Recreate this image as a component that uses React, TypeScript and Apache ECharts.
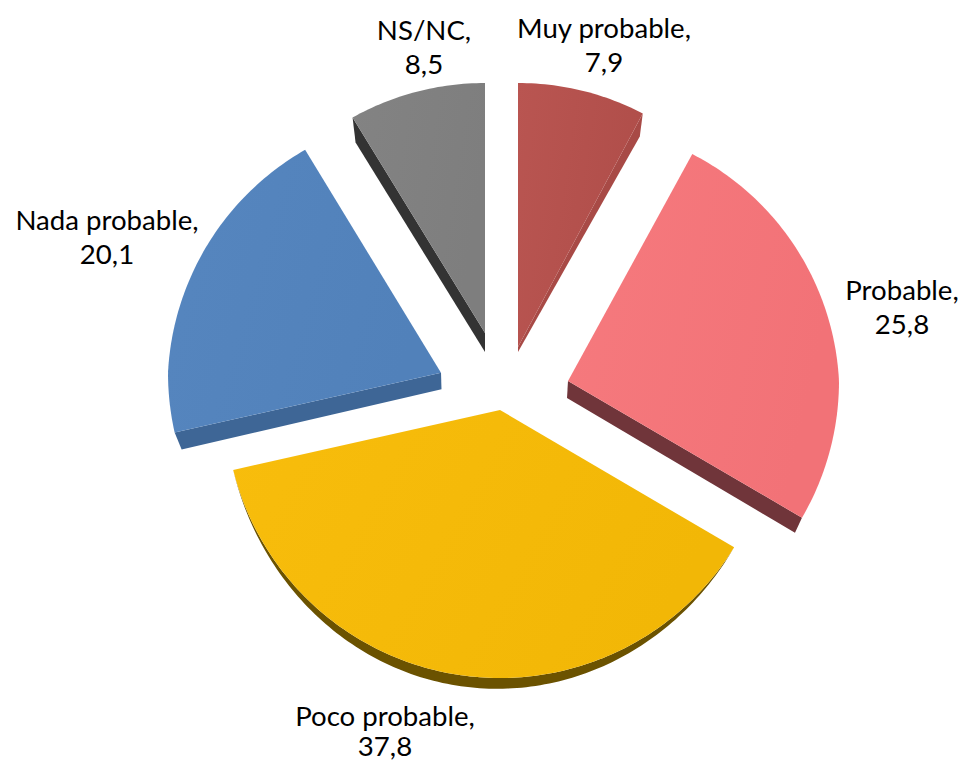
import React, { useEffect, useRef } from "react";
import * as echarts from "echarts";

const categories = ["Muy probable", "Probable", "Poco probable", "Nada probable", "NS/NC"];
const values = [7.9, 25.8, 37.8, 20.1, 8.5];
const valueLabels = ["7,9", "25,8", "37,8", "20,1", "8,5"];

// Look of each slice
const topColors = [
  ["#b95551", "#b04e4a"],
  ["#f67a7e", "#f27277"],
  ["#f8bd0c", "#f2b706"],
  ["#5686bf", "#5181ba"],
  ["#838383", "#7e7e7e"],
];
const wallColors = ["#a84a46", "#70353a", "#6b5200", "#3e6696", "#333333"];

// Layout: exploded tip of each slice, radius, foreshortening at back and front
const tips = [[518, 347], [568, 381], [500, 410], [441, 372.7], [485, 333]];
const radii = [271, 271, 275, 273, 270];
const backShrink = [7, 14, 0, 14, 20];
const frontShrink = [0, 0, 7, 0, 0];
// small perspective correction of the edges, in degrees
const edgeNudge = [[0, -0.3], [0.3, -0.9], [-0.8, 0.2], [0.2, -0.8], [-1, 0]];
// which edge carries a wall: 0 start edge, 1 end edge, -1 the outer rim
const wallEdge = [1, 1, -1, 0, 0];
const wallTipOffset = [[0, 5], [-1, 17], [0, 0], [0.5, 16.5], [0, 19]];
const wallCornerOffset = [[-3, 23], [-7, 15], [0, 11], [7, 17], [3, 25]];
const labelAnchors = [[604, 44], [902, 306], [385, 730.5], [107, 236], [424, 46]];
const labelLineGaps = [17, 17, 15, 17, 17];

const total = values.reduce((a, b) => a + b, 0);

function point(i: number, theta: number): [number, number] {
  const c = Math.cos(theta);
  const r = radii[i] - backShrink[i] * Math.max(0, c) - frontShrink[i] * Math.max(0, -c);
  return [tips[i][0] + r * Math.sin(theta), tips[i][1] - r * c];
}

function arcPoints(i: number, a0: number, a1: number) {
  const n = Math.max(8, Math.ceil(((a1 - a0) * 180) / Math.PI));
  const pts: [number, number][] = [];
  for (let k = 0; k <= n; k++) pts.push(point(i, a0 + ((a1 - a0) * k) / n));
  return pts;
}

function labelLine(text: string, x: number, y: number) {
  return {
    type: "text",
    x,
    y,
    style: {
      text,
      fill: "#000000",
      font: '27.6px Lato, "Open Sans", sans-serif',
      lineHeight: 28,
      align: "center",
      verticalAlign: "middle",
    },
  };
}

function renderItem(params: any, api: any) {
  const i = params.dataIndex;
  const before = values.slice(0, i).reduce((a, b) => a + b, 0);
  const deg = Math.PI / 180;
  const a0 = (before / total) * Math.PI * 2 + edgeNudge[i][0] * deg;
  const a1 = ((before + api.value(0)) / total) * Math.PI * 2 + edgeNudge[i][1] * deg;
  const arc = arcPoints(i, a0, a1);
  const tip = tips[i];
  const children: any[] = [];

  let wall: number[][];
  if (wallEdge[i] === -1) {
    const d = wallCornerOffset[i][1];
    const lower = arc.map((p, k) => [
      p[0],
      p[1] + d * Math.sin((Math.PI * k) / (arc.length - 1)),
    ]);
    wall = [...arc, ...lower.reverse()];
  } else {
    const corner = wallEdge[i] === 1 ? arc[arc.length - 1] : arc[0];
    const tipOff = wallTipOffset[i];
    const cornerOff = wallCornerOffset[i];
    wall = [
      tip,
      corner,
      [corner[0] + cornerOff[0], corner[1] + cornerOff[1]],
      [tip[0] + tipOff[0], tip[1] + tipOff[1]],
    ];
  }
  children.push({
    type: "polygon",
    shape: { points: wall },
    style: { fill: wallColors[i] },
  });
  children.push({
    type: "polygon",
    shape: { points: [tip, ...arc] },
    style: {
      fill: new echarts.graphic.LinearGradient(0, 0, 1, 0.3, [
        { offset: 0, color: topColors[i][0] },
        { offset: 1, color: topColors[i][1] },
      ]),
    },
  });
  const [lx, ly] = labelAnchors[i];
  children.push(labelLine(`${categories[i]},`, lx, ly - labelLineGaps[i]));
  children.push(labelLine(valueLabels[i], lx, ly + labelLineGaps[i]));
  return { type: "group", children };
}

export default function App() {
  const ref = useRef<HTMLDivElement>(null);
  useEffect(() => {
    document.body.style.margin = "0";
    const chart = echarts.init(ref.current!, undefined, { renderer: "svg" });
    chart.setOption({
      animation: false,
      backgroundColor: "#ffffff",
      series: [
        {
          type: "custom",
          coordinateSystem: "none",
          renderItem,
          data: values.map((v) => [v]),
          encode: { value: 0 },
          silent: true,
        },
      ],
    });
    return () => chart.dispose();
  }, []);
  return <div ref={ref} style={{ width: 962, height: 763 }} />;
}
